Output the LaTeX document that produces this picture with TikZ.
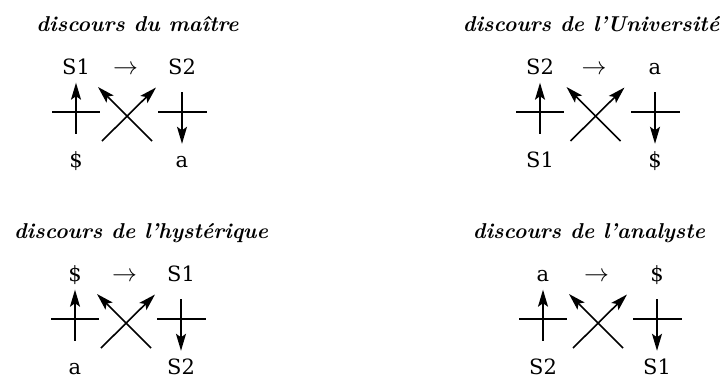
\documentclass[tikz,border=0pt]{standalone}
\usepackage{fontspec}
\usetikzlibrary{arrows.meta}
\newfontfamily\termfont{DejaVu Serif}
\tikzset{
  term/.style={font=\termfont\fontsize{21}{24}\selectfont, anchor=base, inner sep=0pt, text height=12pt, text depth=3pt},
  head/.style={font=\fontsize{21.5}{25}\selectfont\bfseries\itshape, anchor=base},
  lead/.style={font=\fontsize{24}{26}\selectfont, anchor=base, inner sep=0pt},
  bar/.style={line width=1.6pt},
  vec/.style={line width=1.6pt, -{Stealth[length=17pt, width=10pt, inset=3.5pt]}},
}
% #1 name, #2 origin, #3 column gap, #4 title x, #5 title, #6..#9 terms (agent, other, truth, product)
\newcommand{\discours}[9]{%
  \begin{scope}[shift={#2}]
    \node[head] (#1-title) at (#4,-43) {#5};
    \node[term] (#1-tl) at (0,0)    {#6};
    \node[term] (#1-tr) at (#3,0)   {#7};
    \node[term] (#1-bl) at (0,93)   {#8};
    \node[term] (#1-br) at (#3,93)  {#9};
    \node[lead] (#1-to) at ({#3/2-3.5},0) {$\rightarrow$};
    \coordinate (#1-sw) at ({#3/2-27},67);
    \coordinate (#1-ne) at ({#3/2+27},13.5);
    \coordinate (#1-se) at ({#3/2+23},67);
    \coordinate (#1-nw) at ({#3/2-31},13);
    % bars
    \draw[bar] (-24,38) -- (24,38);
    \draw[bar] ({#3-24},38) -- ({#3+25},38);
    % arrows
    \draw[vec, shorten <=21pt, shorten >=5.5pt] (#1-bl.north) -- (#1-tl.south);
    \draw[vec, shorten <=15pt, shorten >=11pt] (#1-tr.south) -- (#1-br.north);
    \draw[vec] (#1-sw) -- (#1-ne);
    \draw[vec] (#1-se) -- (#1-nw);
  \end{scope}}

\begin{document}
\begin{tikzpicture}[x=1pt, y=-1pt]
\useasboundingbox (0,0) rectangle (723,378);
\discours{maitre}{(76,74)}{106}{61.5}{discours du maître}{S1}{S2}{\$}{a}
\discours{univ}{(540,74)}{115}{51}{discours de l’Université}{S2}{a}{S1}{\$}
\discours{hyst}{(75,281)}{106}{66}{discours de l’hystérique}{\$}{S1}{a}{S2}
\discours{anal}{(543,281)}{114}{46}{discours de l’analyste}{a}{\$}{S2}{S1}
\end{tikzpicture}
\end{document}
